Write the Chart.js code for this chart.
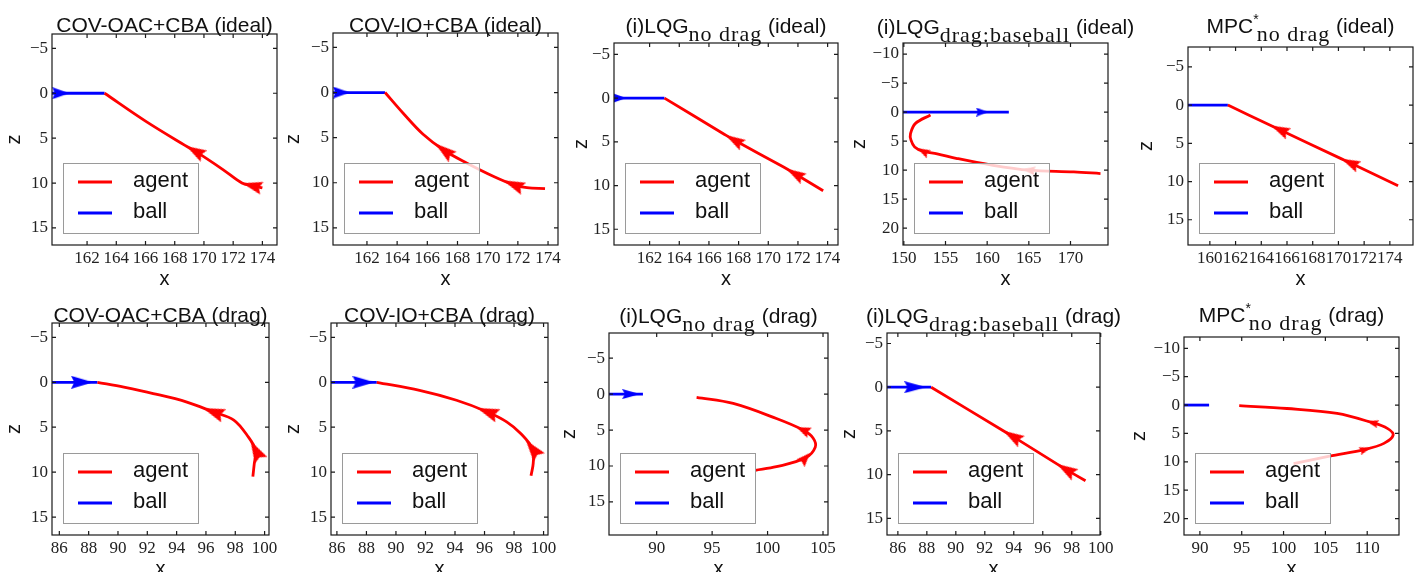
<!DOCTYPE html>
<html>
<head>
<meta charset="utf-8">
<script src="https://cdn.jsdelivr.net/npm/chart.js@4.4.1/dist/chart.umd.min.js"></script>
<style>
  html, body { margin: 0; padding: 0; background: #fff; overflow: hidden; width: 1419px; height: 572px; }
  canvas { position: absolute; }
</style>
</head>
<body>
<script>
// ---- tick values ----
const xTicks162 = [162, 164, 166, 168, 170, 172, 174];
const xTicks160 = [160, 162, 164, 166, 168, 170, 172, 174];
const xTicks150 = [150, 155, 160, 165, 170];
const xTicks86 = [86, 88, 90, 92, 94, 96, 98, 100];
const xTicks90by5 = [90, 95, 100, 105];
const xTicks90to110 = [90, 95, 100, 105, 110];
const zTicksShort = [-5, 0, 5, 10, 15];
const zTicksLong = [-10, -5, 0, 5, 10, 15, 20];

// ---- axis limits [min, max] ----
const oacIdealXLim = [159.6, 175.0],  oacIdealZLim = [-6.6, 16.9];
const ioIdealXLim = [159.75, 174.66], ioIdealZLim = [-6.6, 16.9];
const lqgIdealXLim = [159.6, 174.7],  lqgIdealZLim = [-6.3, 16.8];
const lqgbIdealXLim = [149.9, 174.5], lqgbIdealZLim = [-11.9, 22.9];
const mpcIdealXLim = [158.3, 175.8],  mpcIdealZLim = [-7.6, 18.3];
const oacDragXLim = [85.5, 100.3],    oacDragZLim = [-6.6, 17.0];
const ioDragXLim = [85.6, 100.3],     ioDragZLim = [-6.6, 17.0];
const lqgDragXLim = [85.7, 105.45],   lqgDragZLim = [-8.5, 19.6];
const lqgbDragXLim = [85.25, 99.95],  lqgbDragZLim = [-6.2, 16.9];
const mpcDragXLim = [88.1, 113.8],    mpcDragZLim = [-12.0, 22.9];

// ---- trajectories [x, z], agent listed in order of motion ----
const oacIdealBall = [[159.6, 0], [160.2, 0], [163.2, 0]];
const oacIdealAgent = [[174.0, 10.55], [173.3, 10.3], [172.6, 10.0], [171.3, 8.5], [169.4, 6.45], [168.7, 5.8], [166.0, 3.1], [163.2, 0]];
const ioIdealBall = [[159.75, 0], [160.3, 0], [163.2, 0]];
const ioIdealAgent = [[173.8, 10.65], [172.6, 10.55], [171.7, 10.2], [170.4, 9.3], [168.6, 7.8], [167.1, 6.4], [165.7, 4.6], [164.4, 2.3], [163.2, 0]];
const lqgIdealBall = [[159.6, 0], [159.95, 0], [163.0, 0]];
const lqgIdealAgent = [[173.7, 10.6], [171.8, 8.65], [171.0, 7.85], [167.7, 4.8], [167.0, 4.1], [163.0, 0]];
const lqgbIdealBall = [[149.9, 0], [159.4, 0], [162.6, 0]];
const lqgbIdealAgent = [[173.6, 10.6], [170.4, 10.3], [165.0, 10.0], [160.4, 9.1], [156.4, 8.0], [154.0, 7.2], [152.3, 6.75], [151.3, 6.0], [150.85, 4.8], [150.8, 3.7], [151.4, 1.95], [153.2, 0.5]];
const mpcIdealBall = [[158.3, 0], [161.4, 0]];
const mpcIdealAgent = [[174.64, 10.56], [170.9, 7.55], [170.2, 7.0], [165.44, 3.22], [164.7, 2.63], [161.4, 0]];
const oacDragBall = [[85.5, 0], [87.55, 0], [88.6, 0]];
const oacDragAgent = [[99.2, 10.5], [99.3, 9.0], [99.4, 7.6], [98.9, 6.1], [97.9, 4.2], [96.5, 3.3], [94.7, 2.2], [92.4, 1.25], [90.4, 0.55], [88.6, 0]];
const ioDragBall = [[85.6, 0], [87.8, 0], [88.7, 0]];
const ioDragAgent = [[99.15, 10.4], [99.3, 9.0], [99.25, 7.4], [98.45, 5.7], [97.5, 4.4], [96.2, 3.3], [94.1, 2.0], [91.6, 0.9], [88.7, 0]];
const lqgDragBall = [[85.7, 0], [87.7, 0], [88.76, 0]];
const lqgDragAgent = [[98.9, 10.6], [100.8, 10.1], [103.4, 8.9], [104.3, 7.4], [104.1, 6.1], [103.2, 5.0], [100.8, 3.4], [96.9, 1.3], [93.6, 0.45]];
const lqgbDragBall = [[85.25, 0], [87.2, 0], [88.3, 0]];
const lqgbDragAgent = [[98.95, 10.7], [97.6, 9.4], [97.0, 8.8], [93.9, 5.6], [93.3, 5.0], [88.3, 0]];
const mpcDragBall = [[88.1, 0], [91.1, 0]];
const mpcDragAgent = [[101.2, 10.3], [105.5, 9.0], [109.8, 7.8], [112.0, 6.75], [113.1, 5.3], [112.4, 4.1], [110.6, 3.1], [106.4, 1.47], [100.4, 0.6], [94.7, 0.1]];

// indices of path points carrying a direction arrow (pointing to the next point)
const oacIdealArrows = [1, 4],  oacIdealBallArrows = [1];
const ioIdealArrows = [2, 5],   ioIdealBallArrows = [1];
const lqgIdealArrows = [1, 3],  lqgIdealBallArrows = [1];
const lqgbIdealArrows = [2, 6], lqgbIdealBallArrows = [1];
const mpcIdealArrows = [1, 3],  mpcIdealBallArrows = [];
const oacDragArrows = [2, 5],   oacDragBallArrows = [1];
const ioDragArrows = [2, 5],    ioDragBallArrows = [1];
const lqgDragArrows = [2, 5],   lqgDragBallArrows = [1];
const lqgbDragArrows = [1, 3],  lqgbDragBallArrows = [1];
const mpcDragArrows = [2, 6],   mpcDragBallArrows = [];

const RED = '#ff0000';
const BLUE = '#0000ff';
const SANS = '"Liberation Sans", Arial, sans-serif';
const SERIF = '"Liberation Serif", "Times New Roman", serif';

const ideal = ' (ideal)', drag = ' (drag)';
const panels = [
  { box: [52, 34, 277, 245], xLim: oacIdealXLim, zLim: oacIdealZLim, xTicks: xTicks162, zTicks: zTicksShort,
    agent: oacIdealAgent, ball: oacIdealBall, arrows: oacIdealArrows, ballArrows: oacIdealBallArrows,
    title: [['COV-OAC+CBA' + ideal, 'main']], gap: 2, zPad: 10, red: [20, 13], blue: [17, 12] },
  { box: [333, 33, 558, 245], xLim: ioIdealXLim, zLim: ioIdealZLim, xTicks: xTicks162, zTicks: zTicksShort,
    agent: ioIdealAgent, ball: ioIdealBall, arrows: ioIdealArrows, ballArrows: ioIdealBallArrows,
    title: [['COV-IO+CBA' + ideal, 'main']], gap: 1, zPad: 8, red: [22, 13], blue: [17, 12] },
  { box: [614, 43, 838, 245], xLim: lqgIdealXLim, zLim: lqgIdealZLim, xTicks: xTicks162, zTicks: zTicksShort,
    agent: lqgIdealAgent, ball: lqgIdealBall, arrows: lqgIdealArrows, ballArrows: lqgIdealBallArrows,
    title: [['(i)LQG', 'main'], ['no drag', 'sub'], [ideal, 'main']], gap: 10, zPad: 15, red: [20, 12], blue: [14, 10] },
  { box: [903, 43, 1108, 245], xLim: lqgbIdealXLim, zLim: lqgbIdealZLim, xTicks: xTicks150, zTicks: zTicksLong,
    agent: lqgbIdealAgent, ball: lqgbIdealBall, arrows: lqgbIdealArrows, ballArrows: lqgbIdealBallArrows,
    title: [['(i)LQG', 'main'], ['drag:baseball', 'sub'], [ideal, 'main']], gap: 9, zPad: 4, red: [13, 9], blue: [12, 9] },
  { box: [1188, 47, 1413, 245], xLim: mpcIdealXLim, zLim: mpcIdealZLim, xTicks: xTicks160, zTicks: zTicksShort,
    agent: mpcIdealAgent, ball: mpcIdealBall, arrows: mpcIdealArrows, ballArrows: mpcIdealBallArrows,
    title: [['MPC', 'main'], ['*', 'sup'], ['no drag', 'sub'], [ideal, 'main']], gap: 14, zPad: 6, red: [19, 12], blue: [12, 9] },
  { box: [52, 323, 269, 535], xLim: oacDragXLim, zLim: oacDragZLim, xTicks: xTicks86, zTicks: zTicksShort,
    agent: oacDragAgent, ball: oacDragBall, arrows: oacDragArrows, ballArrows: oacDragBallArrows,
    title: [['COV-OAC+CBA' + drag, 'main']], gap: 1, zPad: 10, red: [22, 14], blue: [22, 13] },
  { box: [331, 323, 548, 535], xLim: ioDragXLim, zLim: ioDragZLim, xTicks: xTicks86, zTicks: zTicksShort,
    agent: ioDragAgent, ball: ioDragBall, arrows: ioDragArrows, ballArrows: ioDragBallArrows,
    title: [['COV-IO+CBA' + drag, 'main']], gap: 1, zPad: 10, red: [22, 14], blue: [22, 13] },
  { box: [609, 333, 828, 535], xLim: lqgDragXLim, zLim: lqgDragZLim, xTicks: xTicks90by5, zTicks: zTicksShort,
    agent: lqgDragAgent, ball: lqgDragBall, arrows: lqgDragArrows, ballArrows: lqgDragBallArrows,
    title: [['(i)LQG', 'main'], ['no drag', 'sub'], [drag, 'main']], gap: 10, zPad: 8, red: [14, 11], blue: [18, 10] },
  { box: [887, 333, 1100, 535], xLim: lqgbDragXLim, zLim: lqgbDragZLim, xTicks: xTicks86, zTicks: zTicksShort,
    agent: lqgbDragAgent, ball: lqgbDragBall, arrows: lqgbDragArrows, ballArrows: lqgbDragBallArrows,
    title: [['(i)LQG', 'main'], ['drag:baseball', 'sub'], [drag, 'main']], gap: 10, zPad: 10, red: [21, 13], blue: [22, 12] },
  { box: [1184, 337, 1399, 535], xLim: mpcDragXLim, zLim: mpcDragZLim, xTicks: xTicks90to110, zTicks: zTicksLong,
    agent: mpcDragAgent, ball: mpcDragBall, arrows: mpcDragArrows, ballArrows: mpcDragBallArrows,
    title: [['MPC', 'main'], ['*', 'sup'], ['no drag', 'sub'], [drag, 'main']], gap: 15, zPad: 3, red: [12, 8], blue: [12, 8] }
];

const AXIS_W = 60, AXIS_H = 48, PAD_TOP = 45, PAD_RIGHT = 30;

function arrowHead(color, len, wid) {
  const c = document.createElement('canvas');
  c.width = wid; c.height = len;
  const g = c.getContext('2d');
  g.fillStyle = color;
  g.beginPath();
  g.moveTo(wid / 2, 0);
  g.lineTo(wid, len);
  g.lineTo(wid / 2, len * 0.85);
  g.lineTo(0, len);
  g.closePath();
  g.fill();
  return c;
}

// rotate the head so it points along the path, measured in pixels
function heading(ctx) {
  const r = ctx.raw;
  if (!r) return 0;
  const xs = ctx.chart.scales.x, ys = ctx.chart.scales.y;
  const dx = xs.getPixelForValue(r.tx) - xs.getPixelForValue(r.x);
  const dy = ys.getPixelForValue(r.ty) - ys.getPixelForValue(r.y);
  return Math.atan2(dy, dx) * 180 / Math.PI + 90;
}

const toXY = (path) => path.map(([x, y]) => ({ x, y }));
const heads = (path, idx) => idx.map(i => ({ x: path[i][0], y: path[i][1], tx: path[i + 1][0], ty: path[i + 1][1] }));
const fmt = (v) => (v < 0 ? '\u2212' + Math.abs(v) : String(v));

function drawFrame(chart) {
  const { ctx, chartArea: a, scales } = chart;
  ctx.save();
  ctx.strokeStyle = '#1a1a1a';
  ctx.lineWidth = 1.2;
  ctx.strokeRect(a.left, a.top, a.right - a.left, a.bottom - a.top);
  ctx.beginPath();
  scales.x.ticks.forEach(t => {
    const p = scales.x.getPixelForValue(t.value);
    ctx.moveTo(p, a.bottom); ctx.lineTo(p, a.bottom - 4);
    ctx.moveTo(p, a.top); ctx.lineTo(p, a.top + 4);
  });
  scales.y.ticks.forEach(t => {
    const p = scales.y.getPixelForValue(t.value);
    ctx.moveTo(a.left, p); ctx.lineTo(a.left + 4, p);
    ctx.moveTo(a.right, p); ctx.lineTo(a.right - 4, p);
  });
  ctx.stroke();
  ctx.restore();
}

function drawLegend(chart) {
  const { ctx, chartArea: a } = chart;
  const left = a.left + 11, w = 135, h = 70, top = a.bottom - 12 - h;
  ctx.save();
  ctx.fillStyle = 'rgba(255,255,255,0.8)';
  ctx.fillRect(left, top, w, h);
  ctx.strokeStyle = '#9a9a9a';
  ctx.lineWidth = 1;
  ctx.strokeRect(left + 0.5, top + 0.5, w, h);
  const rows = chart.data.datasets.filter(d => d.label === 'agent' || d.label === 'ball');
  rows.forEach((d, i) => {
    const y = top + 19 + i * 31;
    ctx.strokeStyle = d.borderColor;
    ctx.lineWidth = 3;
    ctx.beginPath(); ctx.moveTo(left + 15, y); ctx.lineTo(left + 49, y); ctx.stroke();
    ctx.fillStyle = '#111';
    ctx.font = '22px ' + SANS;
    ctx.textBaseline = 'middle';
    ctx.textAlign = 'left';
    ctx.fillText(d.label, left + 70, y - 1.5);
  });
  ctx.restore();
}

const partFont = { main: '21px ' + SANS, sub: '22px ' + SERIF, sup: '14px ' + SANS };
const partShift = { main: 0, sub: 8, sup: -9 };

function drawTitle(chart, cfg) {
  const { ctx, chartArea: a } = chart;
  ctx.save();
  ctx.textBaseline = 'alphabetic';
  ctx.textAlign = 'left';
  const widths = cfg.title.map(([text, kind]) => {
    ctx.font = partFont[kind];
    ctx.letterSpacing = kind === 'sub' ? '1px' : '0px';
    return ctx.measureText(text).width - (kind === 'sup' ? 2 : 0);
  });
  const total = widths.reduce((s, w) => s + w, 0);
  let x = (a.left + a.right) / 2 - total / 2;
  const base = a.top - cfg.gap;
  ctx.fillStyle = '#111';
  cfg.title.forEach(([text, kind], i) => {
    ctx.font = partFont[kind];
    ctx.letterSpacing = kind === 'sub' ? '1px' : '0px';
    ctx.fillText(text, x, base + partShift[kind]);
    x += widths[i];
  });
  ctx.restore();
}

panels.forEach(cfg => {
  const [l, t, r, b] = cfg.box;
  const canvas = document.createElement('canvas');
  canvas.width = (r - l) + AXIS_W + PAD_RIGHT;
  canvas.height = (b - t) + PAD_TOP + AXIS_H;
  canvas.style.left = (l - AXIS_W) + 'px';
  canvas.style.top = (t - PAD_TOP) + 'px';
  document.body.appendChild(canvas);

  const tickFont = { family: SERIF, size: 17 };
  new Chart(canvas, {
    type: 'scatter',
    data: {
      datasets: [
        { label: 'agent', data: toXY(cfg.agent), showLine: true, borderColor: RED, borderWidth: 2.8,
          pointRadius: 0, tension: 0.35, fill: false },
        { label: 'ball', data: toXY(cfg.ball), showLine: true, borderColor: BLUE, borderWidth: 2.8,
          pointRadius: 0, tension: 0, fill: false },
        { label: 'agent heading', data: heads(cfg.agent, cfg.arrows), showLine: false, pointRadius: 6,
          pointStyle: arrowHead(RED, cfg.red[0], cfg.red[1]), pointRotation: heading },
        { label: 'ball heading', data: heads(cfg.ball, cfg.ballArrows), showLine: false, pointRadius: 6,
          pointStyle: arrowHead(BLUE, cfg.blue[0], cfg.blue[1]), pointRotation: heading }
      ]
    },
    options: {
      responsive: false,
      animation: false,
      events: [],
      devicePixelRatio: 1,
      layout: { padding: { top: PAD_TOP, right: PAD_RIGHT, left: 0, bottom: 0 } },
      plugins: { legend: { display: false }, tooltip: { enabled: false }, title: { display: false } },
      scales: {
        x: {
          type: 'linear', min: cfg.xLim[0], max: cfg.xLim[1],
          afterBuildTicks: s => { s.ticks = cfg.xTicks.map(v => ({ value: v })); },
          afterFit: s => { s.height = AXIS_H; },
          grid: { display: false, drawTicks: false }, border: { display: false },
          ticks: { font: tickFont, color: '#222', padding: 3, maxRotation: 0, autoSkip: false, callback: fmt },
          title: { display: true, text: 'x', color: '#111', font: { family: SANS, size: 20 }, padding: { top: 0, bottom: 2 } }
        },
        y: {
          type: 'linear', reverse: true, min: cfg.zLim[0], max: cfg.zLim[1],
          afterBuildTicks: s => { s.ticks = cfg.zTicks.map(v => ({ value: v })); },
          afterFit: s => { s.width = AXIS_W; },
          grid: { display: false, drawTicks: false }, border: { display: false },
          ticks: { font: tickFont, color: '#222', padding: 4, autoSkip: false, callback: fmt },
          title: { display: true, text: 'z', color: '#111', font: { family: SANS, size: 20 }, padding: { top: cfg.zPad, bottom: 0 } }
        }
      }
    },
    plugins: [{
      id: 'panelDecor',
      afterDatasetsDraw: chart => drawLegend(chart),
      afterDraw: chart => { drawFrame(chart); drawTitle(chart, cfg); }
    }]
  });
});
</script>
</body>
</html>
